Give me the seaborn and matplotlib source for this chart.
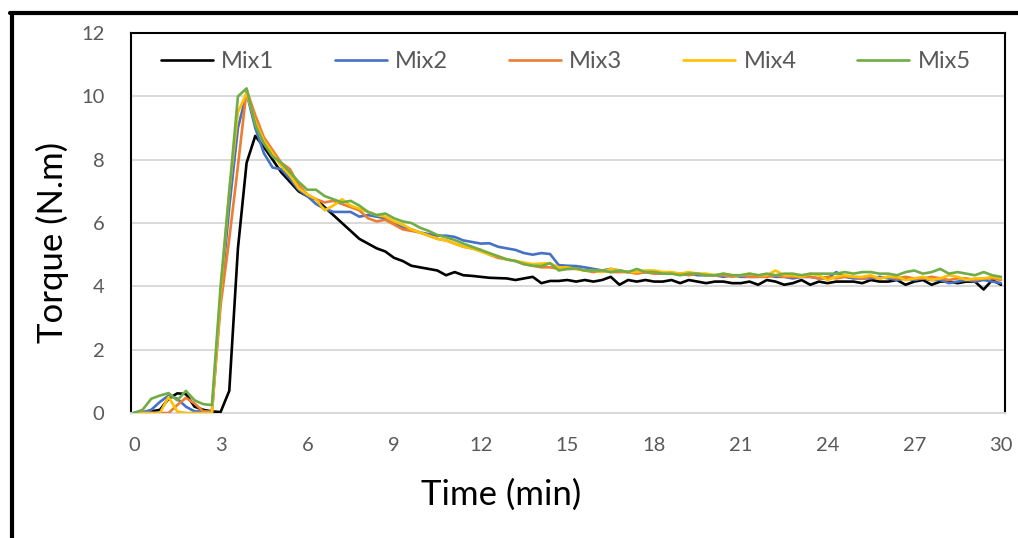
import numpy as np
import pandas as pd
import matplotlib
matplotlib.use("Agg")
import matplotlib.pyplot as plt
import seaborn as sns
from matplotlib.lines import Line2D

# sampling grid (min), one reading every 0.3 min
time_min = np.round(np.linspace(0, 30, 101), 1)

mix1 = [0, 0.02, 0.05, 0.1, 0.45, 0.62, 0.6, 0.2, 0.1, 0.05,
        0.03, 0.7, 5.2, 7.9, 8.75, 8.4, 8.0, 7.6, 7.3, 7.0,
        6.85, 6.75, 6.5, 6.25, 6.0, 5.75, 5.5, 5.35, 5.2, 5.1,
        4.9, 4.8, 4.65, 4.6, 4.55, 4.5, 4.35, 4.45, 4.35, 4.33,
        4.3, 4.27, 4.26, 4.25, 4.2, 4.25, 4.3, 4.1, 4.17, 4.17,
        4.2, 4.15, 4.2, 4.15, 4.2, 4.3, 4.05, 4.2, 4.15, 4.2,
        4.15, 4.15, 4.2, 4.1, 4.2, 4.15, 4.1, 4.15, 4.15, 4.1,
        4.1, 4.15, 4.05, 4.2, 4.15, 4.05, 4.1, 4.2, 4.05, 4.15,
        4.1, 4.15, 4.15, 4.15, 4.1, 4.2, 4.15, 4.15, 4.2, 4.05,
        4.15, 4.2, 4.05, 4.15, 4.15, 4.1, 4.15, 4.15, 3.9, 4.2, 4.05]

mix2 = [0, 0.02, 0.1, 0.35, 0.55, 0.45, 0.2, 0.05, 0.05, 0.05,
        3.6, 6.5, 9.0, 10.1, 9.0, 8.2, 7.75, 7.7, 7.4, 7.05,
        6.85, 6.6, 6.45, 6.35, 6.35, 6.35, 6.2, 6.25, 6.2, 6.15,
        6.0, 5.85, 5.8, 5.7, 5.65, 5.6, 5.6, 5.56, 5.45, 5.4,
        5.35, 5.36, 5.25, 5.2, 5.15, 5.05, 5.0, 5.05, 5.02, 4.67,
        4.65, 4.64, 4.6, 4.55, 4.5, 4.55, 4.5, 4.45, 4.45, 4.45,
        4.45, 4.4, 4.4, 4.4, 4.4, 4.35, 4.35, 4.35, 4.3, 4.35,
        4.3, 4.3, 4.3, 4.35, 4.3, 4.3, 4.25, 4.3, 4.3, 4.25,
        4.25, 4.45, 4.3, 4.25, 4.25, 4.25, 4.3, 4.25, 4.2, 4.25,
        4.2, 4.25, 4.2, 4.2, 4.1, 4.15, 4.2, 4.15, 4.2, 4.15, 4.1]

mix3 = [0, 0, 0, 0, 0, 0.25, 0.48, 0.3, 0.05, 0.03,
        3.4, 5.5, 7.8, 10.2, 9.4, 8.7, 8.3, 7.9, 7.7, 7.2,
        6.9, 6.75, 6.65, 6.7, 6.6, 6.5, 6.4, 6.15, 6.05, 6.1,
        5.95, 5.8, 5.75, 5.7, 5.6, 5.5, 5.45, 5.35, 5.25, 5.2,
        5.15, 5.0, 4.9, 4.85, 4.8, 4.7, 4.65, 4.6, 4.6, 4.55,
        4.55, 4.55, 4.5, 4.45, 4.5, 4.45, 4.45, 4.45, 4.4, 4.45,
        4.4, 4.4, 4.4, 4.4, 4.35, 4.4, 4.35, 4.35, 4.35, 4.3,
        4.35, 4.3, 4.3, 4.3, 4.35, 4.3, 4.3, 4.3, 4.3, 4.25,
        4.3, 4.25, 4.3, 4.3, 4.25, 4.3, 4.25, 4.3, 4.25, 4.3,
        4.25, 4.25, 4.3, 4.25, 4.2, 4.25, 4.25, 4.2, 4.25, 4.25, 4.2]

mix4 = [0, 0, 0, 0, 0.5, 0.05, 0, 0, 0, 0,
        3.8, 7.0, 9.5, 10.1, 9.2, 8.6, 8.2, 7.8, 7.5, 7.1,
        6.9, 6.75, 6.4, 6.55, 6.75, 6.55, 6.45, 6.35, 6.25, 6.2,
        6.05, 5.95, 5.8, 5.7, 5.6, 5.5, 5.45, 5.35, 5.25, 5.2,
        5.1, 5.0, 4.95, 4.85, 4.8, 4.75, 4.7, 4.72, 4.73, 4.6,
        4.6, 4.55, 4.5, 4.5, 4.45, 4.55, 4.5, 4.45, 4.45, 4.5,
        4.5, 4.45, 4.45, 4.4, 4.45, 4.4, 4.4, 4.35, 4.4, 4.35,
        4.35, 4.4, 4.35, 4.35, 4.5, 4.35, 4.35, 4.3, 4.4, 4.35,
        4.2, 4.3, 4.35, 4.3, 4.3, 4.35, 4.25, 4.3, 4.3, 4.2,
        4.25, 4.3, 4.2, 4.25, 4.35, 4.3, 4.2, 4.25, 4.25, 4.3, 4.25]

mix5 = [0, 0.1, 0.45, 0.55, 0.63, 0.4, 0.7, 0.4, 0.28, 0.25,
        4.0, 7.0, 10.0, 10.25, 9.1, 8.5, 8.1, 7.9, 7.6, 7.3,
        7.05, 7.05, 6.85, 6.75, 6.65, 6.7, 6.55, 6.35, 6.25, 6.3,
        6.15, 6.05, 6.0, 5.85, 5.75, 5.62, 5.55, 5.46, 5.35, 5.25,
        5.15, 5.05, 4.95, 4.85, 4.8, 4.7, 4.65, 4.64, 4.73, 4.5,
        4.55, 4.57, 4.5, 4.5, 4.5, 4.45, 4.5, 4.45, 4.55, 4.45,
        4.45, 4.4, 4.4, 4.35, 4.4, 4.4, 4.35, 4.35, 4.4, 4.35,
        4.35, 4.4, 4.35, 4.4, 4.35, 4.4, 4.4, 4.35, 4.4, 4.4,
        4.4, 4.4, 4.45, 4.4, 4.45, 4.45, 4.4, 4.4, 4.35, 4.45,
        4.5, 4.4, 4.45, 4.55, 4.4, 4.45, 4.4, 4.35, 4.45, 4.35, 4.3]

mix_names = ["Mix1", "Mix2", "Mix3", "Mix4", "Mix5"]
mix_colors = ["#000000", "#4472C4", "#ED7D31", "#FFC000", "#70AD47"]
x_ticks = [0, 3, 6, 9, 12, 15, 18, 21, 24, 27, 30]
y_ticks = [0, 2, 4, 6, 8, 10, 12]

frames = []
for name, vals in zip(mix_names, [mix1, mix2, mix3, mix4, mix5]):
    frames.append(pd.DataFrame({"Time": time_min, "Torque": vals, "Mix": name}))
df = pd.concat(frames, ignore_index=True)

sns.set_style("white")
plt.rcParams["font.family"] = ["Lato", "DejaVu Sans"]

fig = plt.figure(figsize=(10.18, 5.38), dpi=100)
ax = fig.add_axes([131 / 1018, 1 - 413 / 538, 874 / 1018, 380 / 538])

sns.lineplot(data=df, x="Time", y="Torque", hue="Mix", palette=mix_colors,
             linewidth=1.9, ax=ax, legend=False, zorder=3)

ax.set_xlim(-0.1, 30.14)
ax.set_ylim(0, 12)
ax.set_xticks(x_ticks)
ax.set_yticks(y_ticks)
ax.tick_params(axis="both", length=0, labelsize=14.5, labelcolor="#595959")
ax.tick_params(axis="x", pad=17)
ax.tick_params(axis="y", pad=19)

ax.yaxis.grid(True, color="#D9D9D9", linewidth=1.4, zorder=0)
ax.xaxis.grid(False)
for side in ["left", "top", "right"]:
    ax.spines[side].set_color("black")
    ax.spines[side].set_linewidth(1.5)
ax.spines["bottom"].set_color("#D9D9D9")
ax.spines["bottom"].set_linewidth(1.4)

# axis titles sit left of / below centre in the original
ax.set_xlabel("Time (min)", fontsize=25, color="black", va="center")
ax.xaxis.set_label_coords(0.423, -0.216)
ax.set_ylabel("Torque (N.m)", fontsize=25, color="black", va="center")
ax.yaxis.set_label_coords(-0.09, 0.45)

handles = [Line2D([0], [0], color=c, linewidth=1.9) for c in mix_colors]
ax.legend(handles, mix_names, loc="center", ncol=5, mode="expand",
          bbox_to_anchor=(0.01, 0.885, 0.975, 0.08), frameon=False,
          fontsize=17, labelcolor="#595959", handlelength=2.2,
          handletextpad=0.35)

# outer chart frame (top and left edges)
fig.add_artist(Line2D([10 / 1018, 1], [1 - 13 / 538, 1 - 13 / 538],
                      color="black", linewidth=3, transform=fig.transFigure))
fig.add_artist(Line2D([12 / 1018, 12 / 1018], [0, 1 - 13 / 538],
                      color="black", linewidth=3, transform=fig.transFigure))

fig.savefig("out.png", dpi=100, facecolor="white")
